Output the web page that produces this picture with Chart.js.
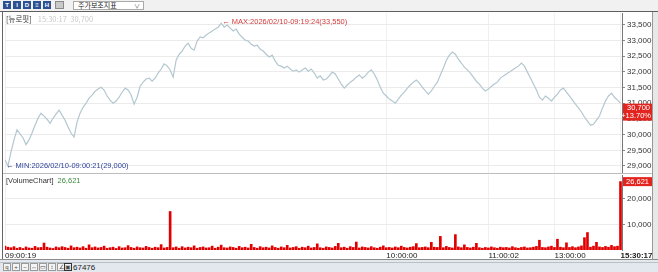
<!DOCTYPE html>
<html>
<head>
<meta charset="utf-8">
<script src="https://cdn.jsdelivr.net/npm/chart.js@4.4.1/dist/chart.umd.min.js"></script>
<style>
  body { margin: 0; width: 658px; height: 272px; overflow: hidden; background: #fff; position: relative;
         font-family: "Liberation Sans", Arial, sans-serif; }
  .abs { position: absolute; }
  #topbar { left: 0; top: 0; width: 658px; height: 11px; background: #f1f1f1; border-bottom: 1px solid #5e5e5e; }
  .btn { position: absolute; top: 1px; width: 8px; height: 8px; background: #2a5193; color: #fff;
         font-size: 6px; line-height: 8px; text-align: center; font-weight: bold; }
  .gbtn { position: absolute; top: 1px; width: 9px; height: 8px; background: #c9c9c9; border: 1px solid #8a8a8a;
          box-sizing: border-box; }
  #combo { left: 73px; top: 1px; width: 71px; height: 9px; background: #fff; border: 1px solid #a9a9a9;
           box-sizing: border-box; font: 7px "Noto Sans CJK KR"; line-height: 7px; color: #222; padding-left: 4px; }
  #combo span { position: absolute; right: 3px; top: 0; color: #666; font-size: 6px; }
  #frameL { left: 2px; top: 12px; width: 1px; height: 247px; background: #666; }
  #frameR { left: 652px; top: 12px; width: 1px; height: 247px; background: #999; }
  #strip { left: 653px; top: 12px; width: 5px; height: 248px; background: #e8e8e8; }
  #sep { left: 3px; top: 173px; width: 649px; height: 1px; background: #bdbdbd; }
  #botbar { left: 0; top: 259px; width: 658px; height: 13px; background: #e3e8ee; border-top: 1px solid #8c8c8c; }
  #botline { left: 0; top: 262px; width: 658px; height: 1px; background: #b9c0c8; }
  .ico { position: absolute; top: 263px; width: 8px; height: 8px; border: 1px solid #9a9a9a; box-sizing: border-box;
         background: #f4f4f4; font-size: 6px; line-height: 6px; text-align: center; color: #444; }
  #count { left: 73px; top: 263px; font-size: 8px; color: #222; }
  canvas { position: absolute; }
  #priceCanvas { left: 5px; top: 13px; }
  #volCanvas { left: 5px; top: 175px; }
  .lbl { position: absolute; font-size: 7.5px; white-space: nowrap; }
</style>
</head>
<body>
<div id="topbar" class="abs">
  <div class="btn" style="left:3px">T</div>
  <div class="btn" style="left:13px">I</div>
  <div class="btn" style="left:23px">D</div>
  <div class="btn" style="left:33px">≡</div>
  <div class="btn" style="left:43px">H</div>
  <div class="gbtn" style="left:55px"></div>
  <div id="combo" class="abs">주가보조지표<span>∨</span></div>
</div>
<div id="frameL" class="abs"></div>
<div id="frameR" class="abs"></div>
<div id="strip" class="abs"></div>
<div id="sep" class="abs"></div>
<div id="botbar" class="abs"></div>
<div id="botline" class="abs"></div>
<div class="ico" style="left:3px">q</div>
<div class="ico" style="left:12px">+</div>
<div class="ico" style="left:21px">−</div>
<div class="ico" style="left:30px">↔</div>
<div class="ico" style="left:39px">▭</div>
<div class="ico" style="left:48px">↕</div>
<div class="ico" style="left:57px">∠</div>
<div class="ico" style="left:64px;border-color:#333">▣</div>
<div id="count" class="abs">67476</div>

<canvas id="priceCanvas" width="647" height="160"></canvas>
<canvas id="volCanvas" width="647" height="85"></canvas>

<div class="lbl" style="left:6px;top:13px;font-family:'Noto Sans CJK KR';color:#333">[뉴로핏]<span style="color:#c9c9c9;margin-left:6px">15:30:17&nbsp; 30,700</span></div>
<div class="lbl" style="left:6px;top:176px;color:#333">[VolumeChart]<span style="color:#3e8a3e;margin-left:4px">26,621</span></div>

<script>
// price per trade tick, one value per ~3px
const priceValues = [
  29200, 29000, 29450, 29830, 30150, 30020, 29900, 29680, 29830, 30050,
  30300, 30520, 30680, 30590, 30490, 30360, 30520, 30650, 30780, 30620,
  30460, 30240, 30050, 29920, 30400, 30680, 30870, 31000, 31160, 31260,
  31380, 31450, 31510, 31420, 31230, 31100, 31000, 31070, 31190, 31350,
  31480, 31420, 31260, 30970, 31190, 31540, 31670, 31770, 31800, 31700,
  31800, 31960, 32090, 32250, 32190, 32060, 31830, 32370, 32560, 32660,
  32820, 32910, 32750, 32690, 32980, 33110, 33080, 33170, 33240, 33300,
  33360, 33420, 33550, 33420, 33490, 33390, 33300, 33360, 33200, 33100,
  33010, 32980, 32880, 32820, 32850, 32720, 32660, 32560, 32470, 32530,
  32340, 32210, 32180, 32120, 32180, 32090, 32020, 32060, 31990, 32060,
  32120, 32020, 32090, 31960, 31800, 31870, 31740, 31770, 31870, 31990,
  31930, 31770, 31610, 31480, 31580, 31670, 31740, 31830, 31900, 31800,
  31870, 31990, 32060, 31930, 31740, 31510, 31320, 31230, 31130, 31070,
  31000, 31130, 31260, 31350, 31480, 31580, 31670, 31740, 31640, 31510,
  31390, 31290, 31390, 31540, 31670, 31900, 32120, 32370, 32530, 32630,
  32560, 32400, 32280, 32150, 32060, 31960, 31830, 31700, 31610, 31480,
  31390, 31450, 31540, 31610, 31670, 31800, 31870, 31930, 31990, 32060,
  32120, 32180, 32280, 32180, 31990, 31800, 31610, 31420, 31190, 31100,
  31230, 31160, 31070, 31190, 31290, 31420, 31480, 31350, 31230, 31100,
  30970, 30850, 30720, 30560, 30430, 30300, 30330, 30460, 30590, 30850,
  31070, 31230, 31320, 31190, 31100, 31000
];

const volumeValues = [
  1500, 1100, 900, 1300, 700, 1000, 600, 1200, 800, 700, 1400, 900, 1000, 2700, 1100, 800, 600, 1200, 900, 1300,
  1000, 700, 1600, 900, 1100, 800, 1300, 700, 2000, 900, 1200, 800, 1000, 1500, 700, 900, 1100, 600, 1300, 800,
  900, 1700, 1000, 700, 1200, 900, 800, 1400, 1000, 700, 1100, 900, 2100, 800, 1000, 15000, 900, 1200, 700, 1300,
  800, 1100, 900, 1600, 700, 1000, 1200, 800, 900, 1500, 700, 1100, 1900, 900, 800, 1200, 1000, 700, 1400, 900,
  1100, 800, 2200, 1000, 700, 1300, 900, 1100, 800, 1600, 1000, 700, 1200, 900, 1800, 800, 1000, 1300, 700, 1100,
  900, 1500, 800, 1000, 2400, 900, 700, 1200, 1000, 800, 1400, 2600, 900, 1100, 700, 1300, 1000, 3100, 800, 1200,
  1000, 800, 1300, 900, 700, 1100, 1600, 900, 1000, 800, 1200, 900, 1500, 1000, 800, 1100, 1300, 2500, 900, 1000,
  1200, 900, 3000, 1100, 1000, 5300, 900, 1400, 1000, 800, 6000, 1200, 900, 2000, 1000, 800, 1100, 2600, 900, 700,
  1000, 800, 1200, 900, 700, 1100, 900, 1000, 800, 1300, 900, 700, 1000, 1200, 800, 900, 1100, 1400, 3800, 1000,
  900, 1200, 1500, 1000, 4200, 1100, 900, 2800, 1000, 1300, 900, 1200, 1600, 4800, 6800, 1100, 1500, 3000, 1200, 1000,
  1400, 1100, 1800, 1300, 1500, 26621
];

// x axis time labels and the tick index they sit on
const timeLabels = ['09:00:19', '10:00:00', '11:00:02', '13:00:00', '15:30:17'];
const timeIdx = [0, 127, 161, 183, 205];

// right axis ticks
const priceTicks = [29000, 29500, 30000, 30500, 31000, 31500, 32000, 32500, 33000, 33500];
const volumeTicks = [10000, 20000];

const lastPrice = 30700;
const prevClose = 27000;
const maxTime = '2026/02/10-09:19:24';
const minTime = '2026/02/10-09:00:21';

const fmt = v => v.toLocaleString('en-US');
const axisFont = { family: 'Liberation Sans', size: 8 };
const xMax = priceValues.length - 0.5;

// fixed width right axis, no label overhang padding
function fixY(scale) {
  scale.width = 30;
  scale.paddingTop = 0;
  scale.paddingBottom = 0;
}

const priceMarks = {
  id: 'priceMarks',
  afterDraw(chart) {
    const { ctx, scales: { x, y } } = chart;
    const hi = Math.max(...priceValues);
    const lo = Math.min(...priceValues);
    const iHi = priceValues.indexOf(hi);
    const iLo = priceValues.indexOf(lo);
    ctx.save();
    ctx.font = '7.5px "Liberation Sans"';
    ctx.textBaseline = 'middle';
    ctx.textAlign = 'left';
    ctx.fillStyle = '#d23a3a';
    ctx.fillText('← MAX:' + maxTime + '(' + fmt(hi) + ')', x.getPixelForValue(iHi) + 1, y.getPixelForValue(hi) - 1);
    ctx.fillStyle = '#2b3f98';
    ctx.fillText('← MIN:' + minTime + '(' + fmt(lo) + ')', x.getPixelForValue(iLo) - 2, y.getPixelForValue(lo));

    // last price box on the axis
    const yp = y.getPixelForValue(lastPrice);
    ctx.fillStyle = '#e3241e';
    ctx.fillRect(x.right + 1, yp - 9, 29, 17);
    ctx.fillStyle = '#fff';
    ctx.textAlign = 'right';
    ctx.fillText(fmt(lastPrice), x.right + 28, yp - 4.5);
    const pct = (lastPrice - prevClose) / prevClose * 100;
    ctx.fillText('+' + pct.toFixed(2) + '%', x.right + 29, yp + 3.5);
    ctx.restore();
  }
};

const volMarks = {
  id: 'volMarks',
  afterDraw(chart) {
    const { ctx, scales: { x, y } } = chart;
    const last = volumeValues[volumeValues.length - 1];
    const yv = y.getPixelForValue(last);
    ctx.save();
    ctx.fillStyle = '#e3241e';
    ctx.fillRect(x.right + 1, yv - 4.5, 29, 9);
    ctx.fillStyle = '#fff';
    ctx.font = '7.5px "Liberation Sans"';
    ctx.textAlign = 'right';
    ctx.textBaseline = 'middle';
    ctx.fillText(fmt(last), x.right + 27, yv);
    ctx.restore();
  }
};

function xScale(showLabels) {
  return {
    type: 'linear',
    min: 0,
    max: xMax,
    offset: false,
    afterBuildTicks: scale => { scale.ticks = timeIdx.map(v => ({ value: v })); },
    afterFit: scale => {
      scale.height = showLabels ? 10 : 0;
      scale.paddingLeft = 0;
      scale.paddingRight = 0;
    },
    grid: { color: '#f0f0f0', drawTicks: false, offset: false },
    border: { display: false },
    ticks: {
      display: showLabels,
      autoSkip: false,
      maxRotation: 0,
      align: 'start',
      padding: 1,
      color: '#222',
      font: ctx => ({ ...axisFont, weight: ctx.index === timeLabels.length - 1 ? 'bold' : 'normal' }),
      callback: (v, i) => timeLabels[i]
    }
  };
}

function yScale(lo, hi, tickList) {
  return {
    position: 'right',
    min: lo,
    max: hi,
    afterBuildTicks: scale => { scale.ticks = tickList.map(v => ({ value: v })); },
    afterFit: fixY,
    grid: { color: '#ebebeb', tickColor: '#8a8a8a', tickLength: 3 },
    border: { color: '#777' },
    ticks: { autoSkip: false, padding: 2, color: '#333', font: axisFont, callback: v => fmt(v) }
  };
}

new Chart(document.getElementById('priceCanvas'), {
  type: 'line',
  data: {
    datasets: [{
      data: priceValues.map((v, i) => ({ x: i, y: v })),
      borderColor: '#b3c7d0',
      borderWidth: 1.2,
      pointRadius: 0,
      tension: 0
    }]
  },
  options: {
    responsive: false,
    animation: false,
    devicePixelRatio: 1,
    layout: { padding: 0 },
    plugins: { legend: { display: false }, tooltip: { enabled: false } },
    scales: {
      x: xScale(false),
      y: yScale(28777, 33873, priceTicks)
    }
  },
  plugins: [priceMarks]
});

new Chart(document.getElementById('volCanvas'), {
  type: 'bar',
  data: {
    datasets: [{
      data: volumeValues.map((v, i) => ({ x: i, y: v })),
      backgroundColor: '#e10000',
      barThickness: 2
    }]
  },
  options: {
    responsive: false,
    animation: false,
    devicePixelRatio: 1,
    layout: { padding: 0 },
    plugins: { legend: { display: false }, tooltip: { enabled: false } },
    scales: {
      x: xScale(true),
      y: yScale(0, 29200, volumeTicks)
    }
  },
  plugins: [volMarks]
});
</script>
</body>
</html>
